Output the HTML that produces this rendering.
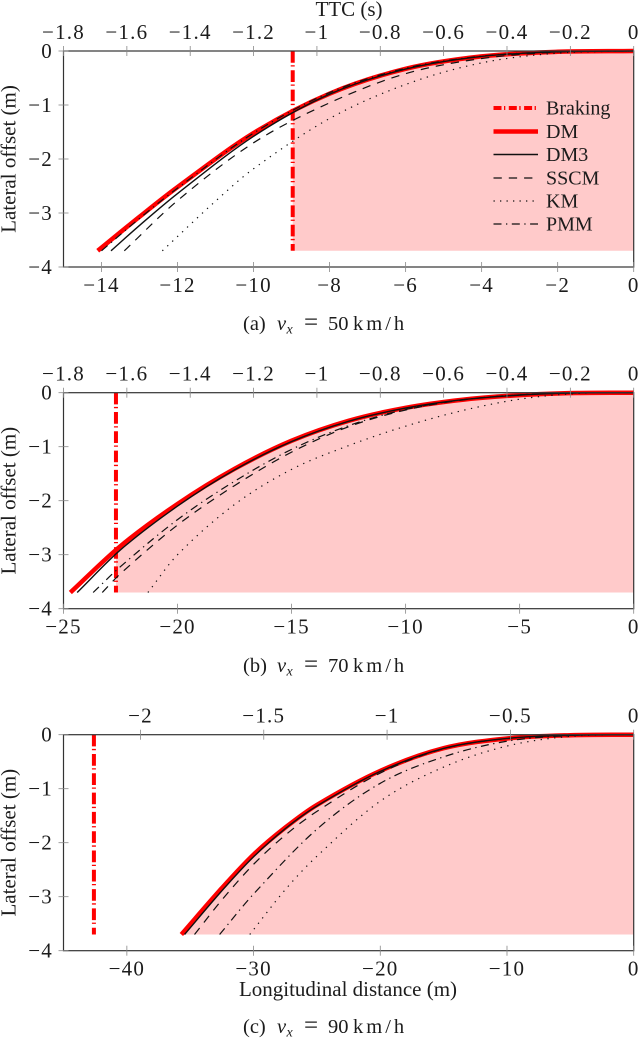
<!DOCTYPE html>
<html lang="en">
<head>
<meta charset="utf-8">
<title>Lateral offset versus longitudinal distance</title>
<style>
html,body{margin:0;padding:0;background:#fff;}
svg{display:block;position:absolute;left:0;top:0;}
text{font-family:"Liberation Serif",serif;fill:#1c1c1c;}
.tick{font-size:21px;letter-spacing:1.2px;}
.lab{font-size:21px;}
.leg{font-size:20px;}
.cap{font-size:20.5px;}
.unit{letter-spacing:3px;}
.eq{font-size:25px;}
</style>
</head>
<body>
<svg id="chart" width="640" height="1039" viewBox="0 0 640 1039" xmlns="http://www.w3.org/2000/svg">
<g id="plots"></g>

<text class="lab" x="349" y="16" text-anchor="middle">TTC (s)</text>
<text class="lab" x="348" y="996" text-anchor="middle">Longitudinal distance (m)</text>

<g>
<text class="cap" y="330"><tspan x="243">(a)</tspan><tspan x="277" font-style="italic">v</tspan><tspan x="286.5" dy="3.5" font-size="14" font-style="italic">x</tspan><tspan x="304" dy="-3.5" class="eq">=</tspan><tspan x="328">50</tspan><tspan x="353" class="unit">km/h</tspan></text>
</g>
<g>
<text class="cap" y="672"><tspan x="243">(b)</tspan><tspan x="277" font-style="italic">v</tspan><tspan x="286.5" dy="3.5" font-size="14" font-style="italic">x</tspan><tspan x="304" dy="-3.5" class="eq">=</tspan><tspan x="328">70</tspan><tspan x="353" class="unit">km/h</tspan></text>
</g>
<g>
<text class="cap" y="1033"><tspan x="243">(c)</tspan><tspan x="277" font-style="italic">v</tspan><tspan x="286.5" dy="3.5" font-size="14" font-style="italic">x</tspan><tspan x="304" dy="-3.5" class="eq">=</tspan><tspan x="328">90</tspan><tspan x="353" class="unit">km/h</tspan></text>
</g>

<g>
<g>
<line x1="493.5" x2="538" y1="108" y2="108" stroke="#ff0000" stroke-width="4" stroke-dasharray="8 2.5 1.3 3.5"/>
<text class="leg" x="546" y="114.5">Braking</text>
</g>
<g>
<line x1="493.5" x2="538" y1="131.5" y2="131.5" stroke="#ff0000" stroke-width="4.5"/>
<text class="leg" x="546" y="138">DM</text>
</g>
<g>
<line x1="493.5" x2="538" y1="154.5" y2="154.5" stroke="#111" stroke-width="1.4"/>
<text class="leg" x="546" y="161">DM3</text>
</g>
<g>
<line x1="493.5" x2="538" y1="178" y2="178" stroke="#111" stroke-width="1.2" stroke-dasharray="8.3 7"/>
<text class="leg" x="546" y="184.5">SSCM</text>
</g>
<g>
<line x1="493.5" x2="538" y1="201" y2="201" stroke="#111" stroke-width="1.2" stroke-dasharray="1.3 5.2"/>
<text class="leg" x="546" y="207.5">KM</text>
</g>
<g>
<line x1="493.5" x2="538" y1="224" y2="224" stroke="#111" stroke-width="1.2" stroke-dasharray="8 4.5 1.3 4.5"/>
<text class="leg" x="546" y="230.5">PMM</text>
</g>
</g>
</svg>

<script>
// Panel (a) v = 50 km/h
const aBraking = -8.97;
const aDmX   = [-14.1,-13,-12,-10,-8,-6,-4,-2,0];
const aDmY   = [-3.7,-3.07,-2.52,-1.52,-0.79,-0.33,-0.1,-0.015,0];
const aDm3X  = [-13.75,-13,-12,-10,-8,-6,-4,-2,0];
const aDm3Y  = [-3.7,-3.23,-2.64,-1.58,-0.8,-0.335,-0.1,-0.015,0];
const aSscmX = [-13.4,-12,-10,-8,-6,-4,-2,0];
const aSscmY = [-3.7,-2.77,-1.7,-0.96,-0.42,-0.14,-0.02,0];
const aKmX   = [-12.4,-11,-10,-8,-6,-4,-2,0];
const aKmY   = [-3.7,-2.78,-2.18,-1.25,-0.62,-0.22,-0.04,0];
const aPmmX  = [-14,-13,-12,-10,-8,-6,-4,-2,0];
const aPmmY  = [-3.7,-3.1,-2.54,-1.52,-0.77,-0.32,-0.095,-0.014,0];

// Panel (b) v = 70 km/h
const bBraking = -22.7;
const bDmX   = [-24.7,-22.5,-20,-17.5,-15,-12.5,-10,-7.5,-5,-2.5,0];
const bDmY   = [-3.7,-2.84,-2.06,-1.41,-0.89,-0.52,-0.28,-0.13,-0.045,-0.005,0];
const bDm3X  = [-24.4,-22.5,-20,-17.5,-15,-12.5,-10,-7.5,-5,-2.5,0];
const bDm3Y  = [-3.7,-2.91,-2.1,-1.43,-0.905,-0.53,-0.285,-0.13,-0.045,-0.005,0];
const bSscmX = [-23.3,-22.5,-20,-17.5,-15,-12.5,-10,-7.5,-5,-2.5,0];
const bSscmY = [-3.7,-3.35,-2.45,-1.72,-1.1,-0.63,-0.32,-0.135,-0.04,-0.005,0];
const bPmmX  = [-23.7,-22.5,-20,-17.5,-15,-12.5,-10,-7.5,-5,-2.5,0];
const bPmmY  = [-3.7,-3.22,-2.35,-1.64,-1.05,-0.61,-0.31,-0.13,-0.04,-0.005,0];
const bKmX   = [-21.3,-20,-17.5,-15,-12.5,-10,-7.5,-5,-2.5,0];
const bKmY   = [-3.7,-3,-2.07,-1.42,-0.98,-0.62,-0.33,-0.12,-0.015,0];

// Panel (c) v = 90 km/h
const cBraking = -42.6;
const cDmX   = [-35.7,-32.5,-30,-27.5,-25,-20,-15,-10,-5,0];
const cDmY   = [-3.7,-2.84,-2.22,-1.72,-1.3,-0.67,-0.25,-0.07,-0.01,0];
const cDm3X  = [-35.45,-32.5,-30,-27.5,-25,-20,-15,-10,-5,0];
const cDm3Y  = [-3.7,-2.89,-2.26,-1.74,-1.32,-0.68,-0.255,-0.07,-0.01,0];
const cSscmX = [-34.66,-32.5,-30,-27.5,-25,-20,-15,-10,-5,0];
const cSscmY = [-3.7,-3.06,-2.4,-1.86,-1.42,-0.71,-0.26,-0.07,-0.01,0];
const cPmmX  = [-32.68,-30,-25,-20,-15,-10,-5,0];
const cPmmY  = [-3.7,-2.95,-1.75,-0.9,-0.41,-0.12,-0.015,0];
const cKmX   = [-30.3,-27.5,-25,-20,-15,-10,-5,0];
const cKmY   = [-3.7,-2.87,-2.25,-1.23,-0.6,-0.21,-0.03,0];

// Tick labels
const yTicks = [0,-1,-2,-3,-4];
const aBottomTicks = [-14,-12,-10,-8,-6,-4,-2,0];
const bBottomTicks = [-25,-20,-15,-10,-5,0];
const cBottomTicks = [-40,-30,-20,-10,0];
const abTopTicks = ['-1.8','-1.6','-1.4','-1.2','-1','-0.8','-0.6','-0.4','-0.2','0'];
const cTopTicks = ['-2','-1.5','-1','-0.5','0'];

const NS = 'http://www.w3.org/2000/svg';
const root = document.getElementById('plots');

function make(parent, tag, props) {
  const el = document.createElementNS(NS, tag);
  for (const k in props) el.setAttribute(k, props[k]);
  parent.appendChild(el);
  return el;
}

// Cubic Hermite through the read points, tangents from neighbouring samples
function smoothPath(pts) {
  const n = pts.length;
  const m = pts.map((p, i) => {
    const a = pts[Math.max(i - 1, 0)], b = pts[Math.min(i + 1, n - 1)];
    return (b[1] - a[1]) / (b[0] - a[0]);
  });
  let d = 'M' + pts[0][0].toFixed(2) + ' ' + pts[0][1].toFixed(2);
  for (let i = 0; i < n - 1; i++) {
    const h = (pts[i + 1][0] - pts[i][0]) / 3;
    d += 'C' + (pts[i][0] + h).toFixed(2) + ' ' + (pts[i][1] + m[i] * h).toFixed(2) + ' ' +
         (pts[i + 1][0] - h).toFixed(2) + ' ' + (pts[i + 1][1] - m[i + 1] * h).toFixed(2) + ' ' +
         pts[i + 1][0].toFixed(2) + ' ' + pts[i + 1][1].toFixed(2);
  }
  return d;
}

function fmt(v) { return String(v).replace('-', '\u2212'); }

function drawPanel(cfg) {
  const L = 63.5, R = 633.7, H = 216;
  const T = cfg.top, B = T + H;
  const sx = v => R + (v / -cfg.xMin) * (R - L);
  const tx = v => R + (v / -cfg.topMin) * (R - L);
  const sy = v => T + (v / -4) * H;
  const toPts = (xs, ys) => xs.map((x, i) => [sx(x), sy(ys[i])]);

  const g = make(root, 'g', {});
  
  

  // Safe-region fill, bounded by the DM curve and braking distance
  const clipId = 'clip-' + cfg.id;
  const defs = make(g, 'defs', {});
  const clip = make(defs, 'clipPath', { id: clipId });
  make(clip, 'rect', { x: sx(cfg.braking), y: T, width: R - sx(cfg.braking), height: H });
  const dmPts = toPts(cfg.dm[0], cfg.dm[1]);
  const fillD = smoothPath(dmPts) + 'L' + sx(0) + ' ' + sy(-3.7) + 'L' + dmPts[0][0] + ' ' + sy(-3.7) + 'Z';
  const fill = make(g, 'path', { d: fillD, fill: '#ffcaca', stroke: 'none', 'clip-path': 'url(#' + clipId + ')' });
  
  

  // Braking line
  const brake = make(g, 'line', { x1: sx(cfg.braking), x2: sx(cfg.braking), y1: sy(0), y2: sy(-3.7), stroke: '#ff0000', 'stroke-width': 4, 'stroke-dasharray': '11.7 2.5 1.3 3.8' });
  
  

  // Series
  const dm = make(g, 'path', { d: smoothPath(dmPts), fill: 'none', stroke: '#ff0000', 'stroke-width': 4.5 });
  
  

  const dm3 = make(g, 'path', { d: smoothPath(toPts(cfg.dm3[0], cfg.dm3[1])), fill: 'none', stroke: '#111', 'stroke-width': 1.4 });
  
  

  const sscm = make(g, 'path', { d: smoothPath(toPts(cfg.sscm[0], cfg.sscm[1])), fill: 'none', stroke: '#111', 'stroke-width': 1.2, 'stroke-dasharray': '8.3 7' });
  
  

  const km = make(g, 'path', { d: smoothPath(toPts(cfg.km[0], cfg.km[1])), fill: 'none', stroke: '#111', 'stroke-width': 1.2, 'stroke-dasharray': '1.3 5.5' });
  
  

  const pmm = make(g, 'path', { d: smoothPath(toPts(cfg.pmm[0], cfg.pmm[1])), fill: 'none', stroke: '#111', 'stroke-width': 1.2, 'stroke-dasharray': '8 4.5 1.3 4.5' });
  
  

  // Axes frame
  const frame = make(g, 'rect', { x: L, y: T, width: R - L, height: H, fill: 'none', stroke: '#333', 'stroke-width': 1.2 });
  
  

  // Y ticks
  yTicks.forEach(v => {
    const t = make(g, 'line', { x1: L - 5, x2: L + 5, y1: sy(v), y2: sy(v), stroke: '#888', 'stroke-width': 0.8 });
    
    
    const lab = make(g, 'text', { x: 53, y: sy(v) + 6.8, 'text-anchor': 'end', class: 'tick' });
    lab.textContent = fmt(v);
    
    
  });

  // Bottom ticks
  cfg.bottom.forEach(v => {
    const t = make(g, 'line', { x1: sx(v), x2: sx(v), y1: B - 5, y2: B + 5, stroke: '#888', 'stroke-width': 0.8 });
    
    
    const lab = make(g, 'text', { x: sx(v), y: B + 25, 'text-anchor': 'middle', class: 'tick' });
    lab.textContent = fmt(v);
    
    
  });

  // Top (TTC) ticks
  cfg.topTicks.forEach(s => {
    const v = parseFloat(s);
    const t = make(g, 'line', { x1: tx(v), x2: tx(v), y1: T - 5, y2: T + 5, stroke: '#888', 'stroke-width': 0.8 });
    
    
    const lab = make(g, 'text', { x: tx(v), y: T - 12, 'text-anchor': 'middle', class: 'tick' });
    lab.textContent = fmt(s);
    
    
  });

  // Y axis title
  const cy = T + 108;
  const yt = make(g, 'text', { x: 0, y: 0, 'text-anchor': 'middle', class: 'lab', transform: 'translate(15.5 ' + cy + ') rotate(-90)' });
  yt.textContent = 'Lateral offset (m)';
  
  
}

drawPanel({ id: 'a', top: 51, xMin: -15, topMin: -1.8, braking: aBraking,
  dm: [aDmX, aDmY], dm3: [aDm3X, aDm3Y], sscm: [aSscmX, aSscmY], km: [aKmX, aKmY], pmm: [aPmmX, aPmmY],
  bottom: aBottomTicks, topTicks: abTopTicks });
drawPanel({ id: 'b', top: 392.7, xMin: -25, topMin: -1.8, braking: bBraking,
  dm: [bDmX, bDmY], dm3: [bDm3X, bDm3Y], sscm: [bSscmX, bSscmY], km: [bKmX, bKmY], pmm: [bPmmX, bPmmY],
  bottom: bBottomTicks, topTicks: abTopTicks });
drawPanel({ id: 'c', top: 734.7, xMin: -45, topMin: -2.312, braking: cBraking,
  dm: [cDmX, cDmY], dm3: [cDm3X, cDm3Y], sscm: [cSscmX, cSscmY], km: [cKmX, cKmY], pmm: [cPmmX, cPmmY],
  bottom: cBottomTicks, topTicks: cTopTicks });
</script>
</body>
</html>
